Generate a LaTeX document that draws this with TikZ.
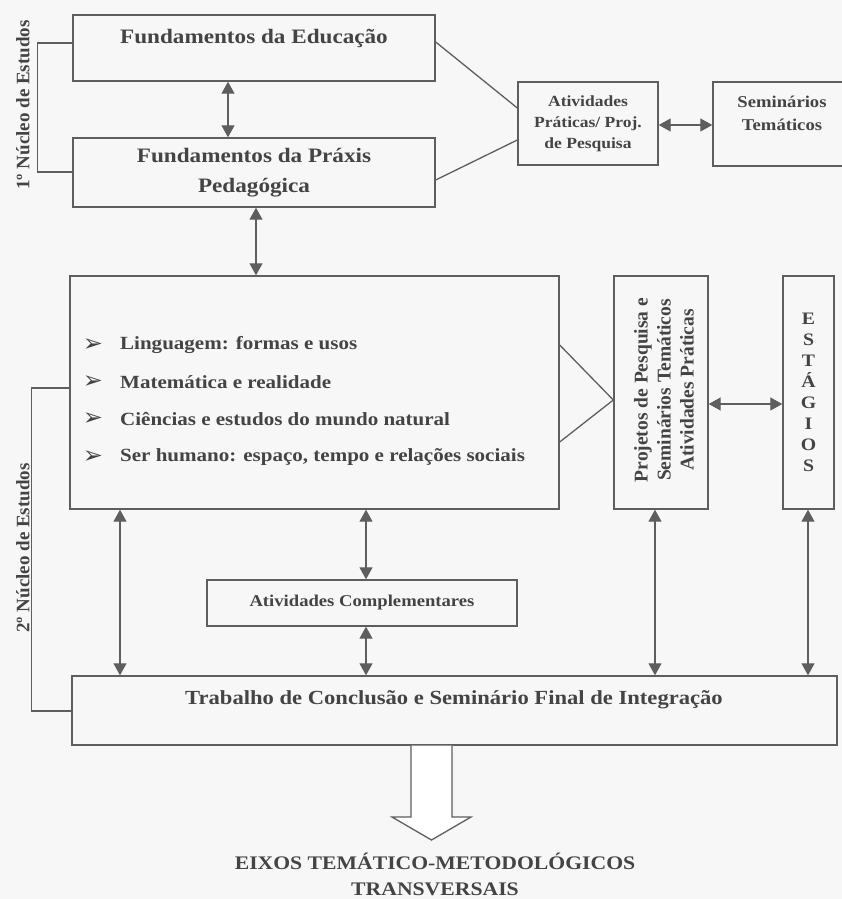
\documentclass[tikz,border=0pt]{standalone}
\usepackage{fontspec}
\setmainfont{Liberation Serif}[FakeStretch=1.13]
\newfontfamily\rotfont{Liberation Serif}
\newfontfamily\dvfont{DejaVu Sans}
\usetikzlibrary{arrows.meta}
\definecolor{lncol}{HTML}{5E5E5E}
\definecolor{txcol}{HTML}{444444}
\definecolor{bgcol}{HTML}{F7F7F7}
\begin{document}
\begin{tikzpicture}[x=1pt,y=-1pt,
  box/.style={draw=lncol, line width=1.4pt, inner sep=0pt, rectangle},
  txt/.style={text=txcol, align=center, inner sep=0pt},
  dbl/.style={draw=lncol, line width=1.3pt, {Triangle[width=13pt,length=12pt]}-{Triangle[width=13pt,length=12pt]}},
  plainline/.style={draw=lncol, line width=1.3pt}]
\fill[bgcol] (0,0) rectangle (842,899);
\useasboundingbox (0,0) rectangle (842,899);

% boxes
\node[box, minimum width=362pt, minimum height=66pt] (fe) at (254,48) {};
\node[txt, font=\bfseries\fontsize{20.5}{24}\selectfont] (fet) at (254,38) {Fundamentos da Educação};
\node[box, minimum width=362pt, minimum height=69pt, txt, font=\bfseries\fontsize{20.5}{30}\selectfont] (fp) at (254,172.5) {Fundamentos da Práxis\\Pedagógica};
\node[box, minimum width=140pt, minimum height=83pt, txt, font=\bfseries\fontsize{15.5}{21}\selectfont] (ap) at (588,123.5) {Atividades\\Práticas/ Proj.\\de Pesquisa};
\node[box, minimum width=139pt, minimum height=84pt] (st) at (782.5,124) {};
\node[txt, font=\bfseries\fontsize{16.5}{23}\selectfont] (stt) at (782,113) {Seminários\\Temáticos};

\node[box, minimum width=489pt, minimum height=233pt] (big) at (314.5,392.5) {};
\foreach \yy/\tt [count=\i] in {345/{Linguagem: formas e usos},382/{Matemática e realidade},419/{Ciências e estudos do mundo natural},457/{Ser humano: espaço, tempo e relações sociais}}{
  \node[txt, text=txcol, font=\dvfont\fontsize{24}{24}\selectfont] (bl\i) at (93,\yy) {➢};
  \node[txt, anchor=west, font=\bfseries\fontsize{18.6}{22}\selectfont] (bt\i) at (120,\yy) {\tt};
}

\node[box, minimum width=94pt, minimum height=233pt] (pj) at (661,392.5) {};
\node[txt, rotate=90, font=\rotfont\bfseries\fontsize{19.5}{23}\selectfont] (pjt) at (664,390) {Projetos de Pesquisa e\\Seminários Temáticos\\Atividades Práticas};
\node[box, minimum width=51pt, minimum height=233pt, txt, font=\bfseries\fontsize{17.5}{21}\selectfont] (es) at (808.5,392.5) {E\\S\\T\\Á\\G\\I\\O\\S};

\node[box, minimum width=310pt, minimum height=46pt, txt, font=\bfseries\fontsize{16.5}{20}\selectfont] (ac) at (362,603) {Atividades Complementares};
\node[box, minimum width=765pt, minimum height=69pt] (tr) at (454.5,710.5) {};
\node[txt, font=\bfseries\fontsize{20}{24}\selectfont] (trt) at (454,700) {Trabalho de Conclusão e Seminário Final de Integração};

\node[txt, font=\bfseries\fontsize{19.2}{26}\selectfont] (eixo) at (435,874) {EIXOS TEMÁTICO-METODOLÓGICOS\\TRANSVERSAIS};

\node[txt, rotate=90, font=\rotfont\bfseries\fontsize{19}{19}\selectfont] (n1) at (23,105) {1º Núcleo de Estudos};
\node[txt, rotate=90, font=\rotfont\bfseries\fontsize{19}{19}\selectfont] (n2) at (23,548) {2º Núcleo de Estudos};

% brackets
\draw[plainline] ([yshift=5pt]fe.west) -- ++(-35,0) |- ([yshift=0.5pt]fp.west);
\draw[plainline] ([yshift=4.5pt]big.west) -- ++(-38,0) |- ([yshift=-0.5pt]tr.west);

% double arrows
\draw[dbl] ([xshift=-26pt]fe.south) -- ([xshift=-26pt]fp.north);
\draw[dbl] ([xshift=2pt]fp.south) -- ([xshift=-58.5pt]big.north);
\draw[dbl] ([yshift=-1.5pt]ap.east) -- ([yshift=-1pt]st.west);
\draw[dbl] ([yshift=-11.5pt]pj.east) -- ([yshift=-11.5pt]es.west);
\draw[dbl] ([xshift=-194.5pt]big.south) -- ([xshift=-334.5pt]tr.north);
\draw[dbl] ([xshift=51.5pt]big.south) -- ([xshift=4pt]ac.north);
\draw[dbl] ([xshift=4pt]ac.south) -- ([xshift=-88.5pt]tr.north);
\draw[dbl] ([xshift=-6pt]pj.south) -- ([xshift=200.5pt]tr.north);
\draw[dbl] ([xshift=-0.5pt]es.south) -- ([xshift=353.5pt]tr.north);

% converging lines
\draw[plainline] ([yshift=6pt]fe.east) -- ([yshift=15.5pt]ap.west);
\draw[plainline] ([yshift=-7.5pt]fp.east) -- ([yshift=-16.5pt]ap.west);
\draw[plainline] ([yshift=47.5pt]big.east) -- ([yshift=-7.5pt]pj.west);
\draw[plainline] ([yshift=-49.5pt]big.east) -- ([yshift=-7.5pt]pj.west);

% hollow arrow
\draw[plainline, fill=white, line join=miter] (411,745.7) -- (411,817) -- (392,817) -- (431.5,840) -- (471,817) -- (452,817) -- (452,745.7);
\end{tikzpicture}
\end{document}
